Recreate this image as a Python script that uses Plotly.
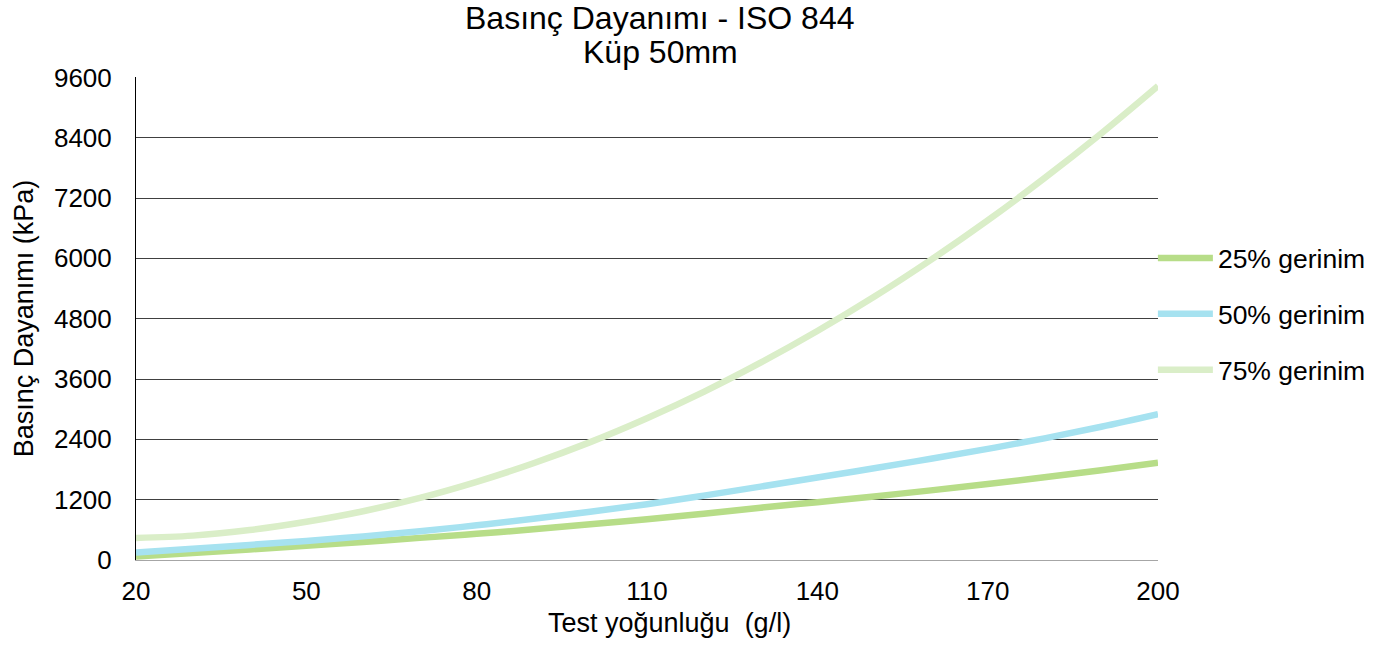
import plotly.graph_objects as go

density = [20, 30, 40, 50, 60, 70, 80, 90, 100, 110, 120, 130, 140, 150, 160, 170, 180, 190, 200]
strain_25 = [70, 140, 210, 285, 360, 440, 520, 610, 710, 810, 920, 1040, 1150, 1265, 1385, 1510, 1645, 1785, 1935]
strain_50 = [150, 225, 300, 380, 470, 570, 690, 820, 960, 1110, 1280, 1460, 1640, 1825, 2015, 2210, 2420, 2650, 2900]
strain_75 = [440, 485, 595, 760, 970, 1235, 1555, 1925, 2345, 2820, 3345, 3925, 4555, 5235, 5970, 6755, 7595, 8485, 9430]

series_names = ["25% gerinim", "50% gerinim", "75% gerinim"]
series_colors = ["#B7DD88", "#A6E2F0", "#DAEEC8"]
x_ticks = [20, 50, 80, 110, 140, 170, 200]
y_ticks = [0, 1200, 2400, 3600, 4800, 6000, 7200, 8400, 9600]
title_lines = ["Basınç Dayanımı - ISO 844", "Küp 50mm"]
x_title = "Test yoğunluğu\u00a0 (g/l)"
y_title = "Basınç Dayanımı (kPa)"

FONT = "Liberation Sans, Arial, sans-serif"

fig = go.Figure()
for name, ys, col in zip(series_names, [strain_25, strain_50, strain_75], series_colors):
    fig.add_trace(go.Scatter(
        x=density, y=ys, name=name, mode="lines", legendgroup=name,
        line=dict(color=col, width=6.5, shape="spline", smoothing=1.0),
    ))

fig.update_layout(
    width=1395, height=646,
    paper_bgcolor="white", plot_bgcolor="white",
    margin=dict(l=136, r=237, t=77, b=86),
    font=dict(family=FONT, size=26, color="#000000"),
    showlegend=True,
    legend=dict(
        x=0.995, xanchor="left", y=0.509, yanchor="middle",
        font=dict(family=FONT, size=26.5, color="#000000"),
        bgcolor="rgba(0,0,0,0)", itemwidth=55,
        tracegroupgap=18.5, traceorder="grouped", itemclick=False,
    ),
)

for i, line in enumerate(title_lines):
    fig.add_annotation(
        text=line, xref="paper", yref="paper",
        x=(660 - 136) / 1022, y=1 + (77 - (18 + 34 * i)) / 483,
        xanchor="center", yanchor="middle", showarrow=False,
        font=dict(family=FONT, size=32, color="#000000"),
    )

fig.add_annotation(
    text=x_title, xref="paper", yref="paper",
    x=(669 - 136) / 1022, y=-(623 - 560) / 483,
    xanchor="center", yanchor="middle", showarrow=False,
    font=dict(family=FONT, size=27, color="#000000"),
)

fig.update_xaxes(
    range=[20, 200], tickmode="array", tickvals=x_ticks,
    ticktext=[str(v) for v in x_ticks],
    showgrid=False, zeroline=False,
    showline=True, linecolor="#a6a6a6", linewidth=1,
    ticks="", tickfont=dict(family=FONT, size=26), ticklabelstandoff=8,
)
fig.update_yaxes(
    range=[0, 9608], tickmode="array", tickvals=y_ticks,
    ticktext=[str(v) for v in y_ticks],
    showgrid=True, gridcolor="#404040", gridwidth=1,
    zeroline=False,
    showline=True, linecolor="#000000", linewidth=1,
    ticks="", tickfont=dict(family=FONT, size=26), ticklabelstandoff=18,
    title=dict(text=y_title, font=dict(family=FONT, size=27), standoff=12),
)

fig.write_html("out.html")
